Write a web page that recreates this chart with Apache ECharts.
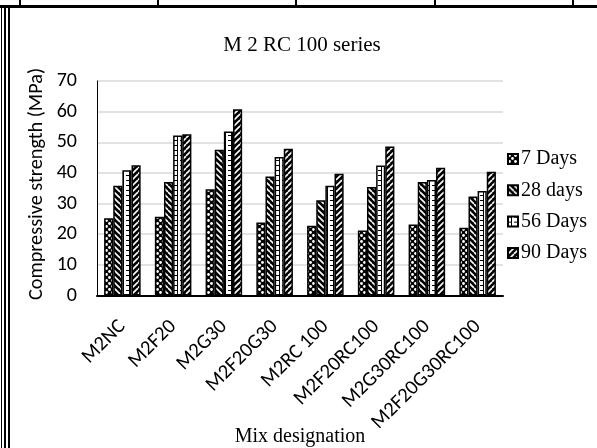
<!DOCTYPE html>
<html><head><meta charset="utf-8">
<script src="https://cdn.jsdelivr.net/npm/echarts@6/dist/echarts.min.js"></script>
<style>html,body{margin:0;padding:0;background:#fff}#c{width:597px;height:448px}</style>
</head><body><div id="c"></div>
<script>
// ---- data ----
const categories = ['M2NC','M2F20','M2G30','M2F20G30','M2RC 100','M2F20RC100','M2G30RC100','M2F20G30RC100'];
const seriesNames = ['7 Days','28 days','56 Days','90 Days'];
const days7  = [25.2, 25.7, 34.7, 23.8, 22.8, 21.2, 23.2, 22.1];
const days28 = [35.8, 37.0, 47.6, 38.8, 31.1, 35.4, 37.0, 32.3];
const days56 = [40.9, 52.2, 53.5, 45.2, 35.8, 42.4, 37.7, 34.1];
const days90 = [42.5, 52.6, 60.8, 47.9, 39.7, 48.6, 41.7, 40.4];
const yMin = 0, yMax = 70, yStep = 10;

// ---- patterns ----
function makePattern(w, h, draw) {
  const c = document.createElement('canvas');
  c.width = w; c.height = h;
  draw(c.getContext('2d'));
  return { image: c, repeat: 'repeat' };
}
const pat7 = makePattern(6, 6, ctx => {
  ctx.fillStyle = '#000'; ctx.fillRect(0, 0, 6, 6);
  ctx.fillStyle = '#fff';
  ctx.beginPath(); ctx.arc(1.5, 1.5, 1.4, 0, Math.PI * 2); ctx.fill();
  ctx.beginPath(); ctx.arc(4.5, 4.5, 1.4, 0, Math.PI * 2); ctx.fill();
});
const pat28 = makePattern(6, 6, ctx => {
  ctx.fillStyle = '#000'; ctx.fillRect(0, 0, 6, 6);
  ctx.strokeStyle = '#fff'; ctx.lineWidth = 1.6;
  [-6, 0, 6].forEach(x => { ctx.beginPath(); ctx.moveTo(x, 0); ctx.lineTo(x + 6, 6); ctx.stroke(); });
});
const pat56 = makePattern(6, 5, ctx => {
  ctx.fillStyle = '#fff'; ctx.fillRect(0, 0, 6, 5);
  ctx.fillStyle = '#000';
  ctx.fillRect(0, 0, 4, 1);
  ctx.fillRect(3, 0, 1, 5);
});
const pat90 = makePattern(6, 6, ctx => {
  ctx.fillStyle = '#000'; ctx.fillRect(0, 0, 6, 6);
  ctx.strokeStyle = '#fff'; ctx.lineWidth = 1.6;
  [-6, 0, 6].forEach(x => { ctx.beginPath(); ctx.moveTo(x, 6); ctx.lineTo(x + 6, 0); ctx.stroke(); });
});
const patterns = [pat7, pat28, pat56, pat90];
const values = [days7, days28, days56, days90];

const serif = '"Times New Roman", "Liberation Serif", serif';
const sans = 'Calibri, Carlito, Lato, sans-serif';

const chart = echarts.init(document.getElementById('c'), null, { renderer: 'canvas' });
chart.setOption({
  animation: false,
  backgroundColor: '#fff',
  grid: { left: 97, right: 94, top: 81, bottom: 152.5, containLabel: false },
  legend: {
    orient: 'vertical', left: 507, top: 149, padding: 0,
    itemWidth: 10, itemHeight: 10, itemGap: 11.3, icon: 'rect',
    textStyle: { fontFamily: serif, fontSize: 20, color: '#000', lineHeight: 20, padding: [0, 0, 0, -2] },
    data: seriesNames
  },
  xAxis: {
    type: 'category', data: categories,
    axisLine: { lineStyle: { color: '#000', width: 2 } },
    axisTick: { show: false },
    axisLabel: { interval: 0, rotate: 45, margin: 28, color: '#000', fontFamily: sans, fontSize: 20.5 }
  },
  yAxis: {
    type: 'value', min: yMin, max: yMax, interval: yStep,
    axisLine: { show: true, lineStyle: { color: '#000', width: 1 } },
    axisTick: { show: false },
    splitLine: { lineStyle: { color: '#d9d9d9', width: 1.5 } },
    axisLabel: { margin: 20, color: '#000', fontFamily: sans, fontSize: 20 }
  },
  series: seriesNames.map((name, i) => ({
    name, type: 'bar', data: values[i],
    barGap: '0%', barCategoryGap: '28%',
    itemStyle: { color: patterns[i], borderColor: '#000', borderWidth: 1.5 },
    emphasis: { disabled: true }
  })),
  graphic: [
    { type: 'rect', shape: { x: 0, y: 5, width: 597, height: 3 }, style: { fill: '#000' } },
    ...[19, 157, 295, 434, 572].map(x => ({ type: 'rect', shape: { x, y: 0, width: 2, height: 5 }, style: { fill: '#000' } })),
    { type: 'rect', shape: { x: 1, y: 8, width: 1, height: 440 }, style: { fill: '#000' } },
    { type: 'rect', shape: { x: 4, y: 8, width: 2, height: 440 }, style: { fill: '#000' } },
    { type: 'rect', shape: { x: 8, y: 8, width: 2, height: 440 }, style: { fill: '#000' } },
    { type: 'text', x: 302, y: 45, style: { text: 'M 2 RC 100 series', font: '21px ' + serif, fill: '#000', textAlign: 'center', textVerticalAlign: 'middle' } },
    { type: 'text', x: 300, y: 437, style: { text: 'Mix designation', font: '20px ' + serif, fill: '#000', textAlign: 'center', textVerticalAlign: 'middle' } },
    { type: 'text', x: 37, y: 184, rotation: Math.PI / 2, style: { text: 'Compressive strength (MPa)', font: '20.3px ' + sans, fill: '#000', textAlign: 'center', textVerticalAlign: 'middle' } }
  ]
});
</script>
</body></html>
